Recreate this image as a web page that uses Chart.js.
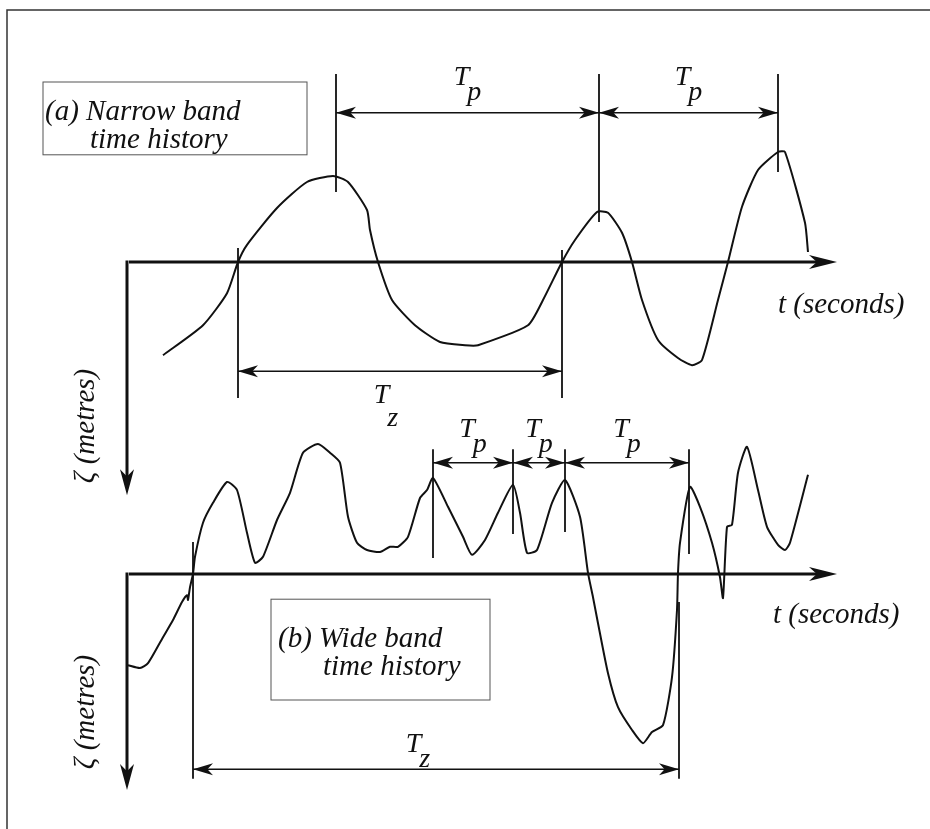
<!DOCTYPE html>
<html>
<head>
<meta charset="UTF-8">
<title>Narrow band and wide band time histories</title>
<script src="https://cdn.jsdelivr.net/npm/chart.js"></script>
<style>
  body { margin: 0; background: #fff; }
  .wrap { position: relative; width: 930px; height: 829px; }
  #labels { position: absolute; left: 0; top: 0; width: 930px; height: 829px; pointer-events: none; }
  /* labels are real text laid over the canvas, in the scanned book's italic serif */
  .lbl { position: absolute; font-family: 'Liberation Serif', 'Times New Roman', serif; font-style: italic;
         line-height: 1.107; white-space: nowrap; color: #111; }
</style>
</head>
<body>
<div class="wrap"><canvas id="waves"></canvas><div id="labels"></div></div>
<script>
// time in seconds (t = 0 at the vertical axis), surface elevation in metres
const narrowT = [3.6, 7.6, 10.0, 11.1, 12.0, 15.0, 18.0, 20.6, 22.1, 24.0, 24.3, 25.1, 26.5, 28.8, 31.3, 33.8, 35.1, 40.1, 41.6, 43.5,
  44.8, 47.0, 48.1, 49.5, 50.5, 51.5, 53.1, 55.1, 56.5, 57.5, 59.1, 60.1, 61.5, 63.1, 65.1, 65.8, 67.8, 68.1];
const narrowZeta = [-2.33, -1.58, -0.78, 0, 0.43, 1.35, 2.0, 2.15, 2.0, 1.3, 0.8, 0, -0.95, -1.58, -2.0, -2.08, -2.08, -1.58, -0.95, 0,
  0.55, 1.25, 1.23, 0.73, 0, -0.95, -1.95, -2.4, -2.58, -2.45, -0.95, 0, 1.38, 2.3, 2.75, 2.75, 0.98, 0.25];

const wideT = [0.1, 1.3, 2.1, 3.6, 4.6, 5.5, 6.0, 6.1, 6.3, 6.6, 6.8, 7.6, 8.6, 10.0, 11.0, 12.0, 12.8, 13.6, 15.0, 16.3,
  17.6, 19.1, 20.3, 21.3, 22.1, 23.0, 24.0, 25.3, 26.3, 27.1, 28.1, 29.3, 30.0, 30.6, 32.1, 33.6, 34.5, 35.8, 37.1, 38.6,
  39.3, 40.0, 41.0, 42.5, 43.8, 45.3, 46.1, 46.6, 47.1, 48.1, 49.1, 50.5, 51.6, 52.5, 53.6, 54.5, 55.0, 55.1, 55.3, 56.3,
  57.3, 58.5, 59.3, 59.6, 60.0, 60.5, 61.1, 62.0, 63.1, 64.0, 65.1, 65.8, 66.3, 68.1];
const wideZeta = [-2.28, -2.35, -2.23, -1.58, -1.15, -0.7, -0.53, -0.65, -0.33, 0, 0.43, 1.28, 1.78, 2.3, 2.1, 1.03, 0.28, 0.43, 1.35, 2.03,
  3.03, 3.25, 3.03, 2.78, 1.43, 0.78, 0.6, 0.55, 0.68, 0.68, 0.93, 1.9, 2.1, 2.4, 1.68, 0.93, 0.48, 0.85, 1.53, 2.23,
  1.53, 0.53, 0.6, 1.78, 2.35, 1.43, 0.03, -0.58, -1.23, -2.48, -3.33, -3.9, -4.23, -3.95, -3.78, -2.58, -0.9, 0.03, 0.78, 2.18,
  1.68, 0.78, -0.08, -0.6, 1.18, 1.23, 2.53, 3.18, 2.1, 1.18, 0.73, 0.6, 0.78, 2.48];

// crests marked T_p (with the lower end of each marker), zero up-crossings marked T_z
const narrowPeaks = [20.9, 47.2, 65.1];
const narrowPeakLow = [1.75, 1.0, 2.25];
const narrowCross = [11.1, 43.5];
const narrowCrossTop = [0.35, 0.3];

const widePeaks = [30.6, 38.6, 43.8, 56.2];
const widePeakLow = [0.4, 1.0, 1.05, 0.5];
const wideCross = [6.6, 55.2];
const wideCrossTop = [0.8, -0.7];

const ink = '#111';
const ASCENT = 0.891; // Liberation Serif ascent, used to put spans on a baseline

const panels = [
  { axis: 'yA', peaks: narrowPeaks, peakLow: narrowPeakLow, peakTop: 4.7, tpRow: 3.73, tpText: 4.43,
    cross: narrowCross, crossTop: narrowCrossTop, crossLow: -3.4, tzRow: -2.73, tzText: -3.53, tzDx: -14, tzDy: 23,
    axisDown: -5.83, tLabel: [65.1, -1.27], zLabel: [-4.3, -4.1],
    box: [-8.4, 18.0, 4.5, 2.68], lines: [['(a) Narrow band', -8.2, 3.55], ['time history', -3.7, 2.85]] },
  { axis: 'yB', peaks: widePeaks, peakLow: widePeakLow, peakTop: 3.12, tpRow: 2.78, tpText: 3.43,
    cross: wideCross, crossTop: wideCrossTop, crossLow: -5.12, tzRow: -4.88, tzText: -4.45, tzDx: -18, tzDy: 15,
    axisDown: -5.4, tLabel: [64.6, -1.23], zLabel: [-4.3, -3.45],
    box: [14.4, 36.3, -0.63, -3.15], lines: [['(b) Wide band', 15.1, -1.83], ['time history', 19.6, -2.53]] }
];

const overlay = document.getElementById('labels');

function text(s, size) {
  const el = document.createElement('span');
  el.className = 'lbl';
  el.textContent = s;
  el.style.fontSize = size + 'px';
  overlay.appendChild(el);
  return el;
}

function put(el, left, baseline, size) {
  el.style.left = left + 'px';
  el.style.top = (baseline - ASCENT * size) + 'px';
}

function symbol(cx, by, main, sub, dy) {
  const a = text(main, 28), b = text(sub, 28);
  const shift = a.offsetWidth * 0.85;
  const left = cx - (shift + b.offsetWidth) / 2;
  put(a, left, by, 28);
  put(b, left + shift, by + dy, 28);
}

function head(ctx, x, y, ang, len, half) {
  ctx.save();
  ctx.translate(x, y);
  ctx.rotate(ang);
  ctx.beginPath();
  ctx.moveTo(0, 0);
  ctx.lineTo(-len, -half);
  ctx.lineTo(-len * 0.72, 0);
  ctx.lineTo(-len, half);
  ctx.closePath();
  ctx.fill();
  ctx.restore();
}

function span(ctx, x1, x2, y) {
  ctx.lineWidth = 1.6;
  ctx.beginPath(); ctx.moveTo(x1, y); ctx.lineTo(x2, y); ctx.stroke();
  head(ctx, x1, y, Math.PI, 20, 6);
  head(ctx, x2, y, 0, 20, 6);
}

const figure = {
  id: 'figure',
  afterDatasetsDraw(chart) {
    const { ctx, chartArea: a, scales } = chart;
    const X = v => scales.x.getPixelForValue(v);
    overlay.innerHTML = '';
    ctx.save();

    // scanned frame: left and top edges only
    ctx.strokeStyle = '#333';
    ctx.lineWidth = 1.5;
    ctx.beginPath();
    ctx.moveTo(a.left + 7, a.bottom);
    ctx.lineTo(a.left + 7, a.top + 10);
    ctx.lineTo(a.right, a.top + 10);
    ctx.stroke();

    ctx.strokeStyle = ink;
    ctx.fillStyle = ink;
    panels.forEach(p => {
      const Y = v => scales[p.axis].getPixelForValue(v);

      // axes with arrows
      ctx.lineWidth = 3;
      ctx.beginPath();
      ctx.moveTo(X(0.2), Y(0)); ctx.lineTo(X(70), Y(0));
      ctx.moveTo(X(0), Y(0) - 1.5); ctx.lineTo(X(0), Y(p.axisDown) - 10);
      ctx.stroke();
      head(ctx, X(71), Y(0), 0, 28, 7);
      head(ctx, X(0), Y(p.axisDown), Math.PI / 2, 26, 7);

      // T_p and T_z markers
      ctx.lineWidth = 1.8;
      ctx.beginPath();
      p.peaks.forEach((t, i) => { ctx.moveTo(X(t), Y(p.peakTop)); ctx.lineTo(X(t), Y(p.peakLow[i])); });
      p.cross.forEach((t, i) => { ctx.moveTo(X(t), Y(p.crossTop[i])); ctx.lineTo(X(t), Y(p.crossLow)); });
      ctx.stroke();

      for (let i = 1; i < p.peaks.length; i++) {
        span(ctx, X(p.peaks[i - 1]), X(p.peaks[i]), Y(p.tpRow));
        symbol((X(p.peaks[i - 1]) + X(p.peaks[i])) / 2, Y(p.tpText), 'T', 'p', 15);
      }
      span(ctx, X(p.cross[0]), X(p.cross[1]), Y(p.tzRow));
      symbol((X(p.cross[0]) + X(p.cross[1])) / 2 + p.tzDx, Y(p.tzText), 'T', 'z', p.tzDy);

      // caption box
      ctx.strokeStyle = '#555';
      ctx.lineWidth = 1;
      const [b0, b1, b2, b3] = p.box;
      ctx.strokeRect(X(b0), Y(b2), X(b1) - X(b0), Y(b3) - Y(b2));
      ctx.strokeStyle = ink;
      p.lines.forEach(([s, t, z]) => put(text(s, 29), X(t), Y(z), 29));

      // axis titles
      put(text('t (seconds)', 29), X(p.tLabel[0]), Y(p.tLabel[1]), 29);
      const zl = text('\u03B6 (metres)', 29);
      zl.style.left = (X(p.zLabel[0]) - zl.offsetWidth / 2) + 'px';
      zl.style.top = (Y(p.zLabel[1]) - zl.offsetHeight / 2) + 'px';
      zl.style.transform = 'rotate(-90deg)';
    });
    ctx.restore();
  }
};

const line = (ts, zs, axis, label) => ({
  label: label,
  data: ts.map((t, i) => ({ x: t, y: zs[i] })),
  yAxisID: axis,
  borderColor: ink,
  borderWidth: 2,
  pointRadius: 0,
  tension: 0.2,
  fill: false
});

new Chart(document.getElementById('waves'), {
  type: 'line',
  data: {
    datasets: [
      line(narrowT, narrowZeta, 'yA', '(a) Narrow band time history'),
      line(wideT, wideZeta, 'yB', '(b) Wide band time history')
    ]
  },
  options: {
    responsive: true,
    maintainAspectRatio: false,
    animation: false,
    layout: { padding: 0 },
    plugins: { legend: { display: false }, tooltip: { enabled: false } },
    scales: {
      x: { type: 'linear', min: -12.7, max: 80.3, display: false },
      yA: { type: 'linear', min: -14.175, max: 6.55, display: false },
      yB: { type: 'linear', min: -6.375, max: 14.35, display: false }
    }
  },
  plugins: [figure]
});
</script>
</body>
</html>
